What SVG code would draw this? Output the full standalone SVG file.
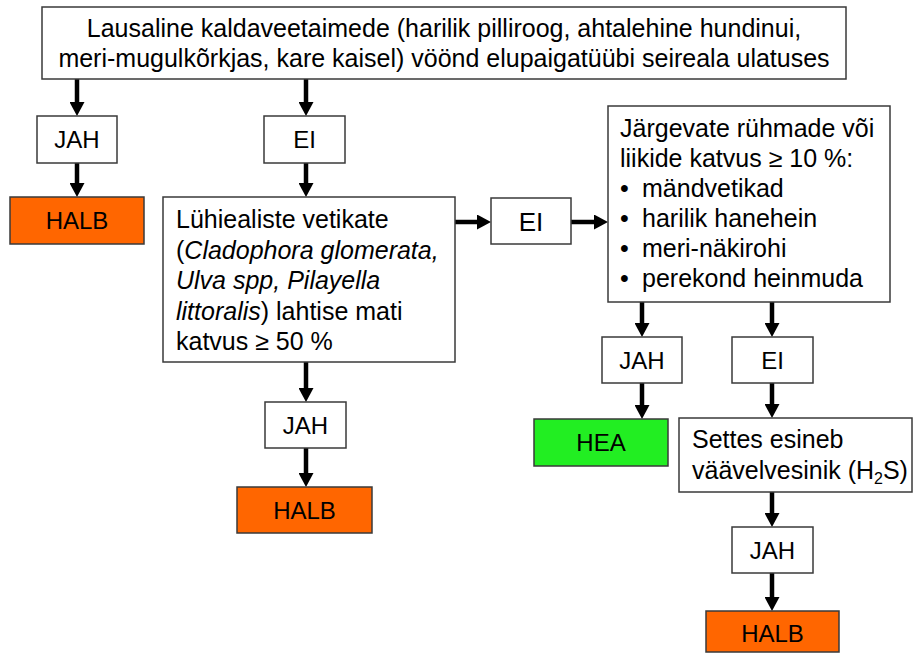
<svg xmlns="http://www.w3.org/2000/svg" width="914" height="653" viewBox="0 0 914 653">
<defs>
<marker id="ah" viewBox="0 0 14 15" refX="0" refY="7.5" markerWidth="14" markerHeight="15" markerUnits="userSpaceOnUse" orient="auto">
<path d="M0,0 L14,7.5 L0,15 Z" fill="#000"/>
</marker>
<style>
.box{fill:#fff;stroke:#3a3a3a;stroke-width:1.5}
.bad{fill:#ff6600;stroke:#3a3a3a;stroke-width:1.5}
.good{fill:#22ee22;stroke:#3a3a3a;stroke-width:1.5}
text{font-family:"Liberation Sans",Arial,sans-serif;fill:#000}
.t25{font-size:25px}
.t24{font-size:24px;text-anchor:middle}
.c{text-anchor:middle}
.arr{stroke:#000;stroke-width:4.5;fill:none;marker-end:url(#ah)}
</style>
</defs>
<rect width="914" height="653" fill="#fff"/>
<g id="connectors">
<line class="arr" x1="77" y1="79" x2="77" y2="102"/>
<line class="arr" x1="306" y1="79" x2="306" y2="102"/>
<line class="arr" x1="77" y1="163" x2="77" y2="183"/>
<line class="arr" x1="306" y1="163" x2="306" y2="183"/>
<line class="arr" x1="455" y1="222" x2="477" y2="222"/>
<line class="arr" x1="571" y1="222" x2="594" y2="222"/>
<line class="arr" x1="642" y1="302" x2="642" y2="323"/>
<line class="arr" x1="772" y1="302" x2="772" y2="323"/>
<line class="arr" x1="642" y1="383" x2="642" y2="405"/>
<line class="arr" x1="772" y1="383" x2="772" y2="404"/>
<line class="arr" x1="306" y1="362" x2="306" y2="388"/>
<line class="arr" x1="306" y1="448" x2="306" y2="473"/>
<line class="arr" x1="772" y1="492" x2="772" y2="513"/>
<line class="arr" x1="772" y1="573" x2="772" y2="597"/>
</g>
<g id="top">
<rect class="box" x="42" y="7" width="804" height="72"/>
<text class="t25 c" x="444" y="37">Lausaline kaldaveetaimede (harilik pilliroog, ahtalehine hundinui,</text>
<text class="t25 c" x="444" y="67">meri-mugulkõrkjas, kare kaisel) vöönd elupaigatüübi seireala ulatuses</text>
</g>
<g id="jah1">
<rect class="box" x="37" y="116" width="80" height="47"/>
<text class="t24" x="77" y="148">JAH</text>
</g>
<g id="halb1">
<rect class="bad" x="10" y="197" width="134" height="47"/>
<text class="t24" x="77" y="229">HALB</text>
</g>
<g id="ei1">
<rect class="box" x="264" y="116" width="81" height="47"/>
<text class="t24" x="304.5" y="148">EI</text>
</g>
<g id="lyhi">
<rect class="box" x="163" y="197" width="292" height="165"/>
<text class="t25" x="176" y="228">Lühiealiste vetikate</text>
<text class="t25" x="176" y="258.5">(<tspan font-style="italic">Cladophora glomerata,</tspan></text>
<text class="t25" x="176" y="289" font-style="italic">Ulva spp, Pilayella</text>
<text class="t25" x="176" y="319.5"><tspan font-style="italic">littoralis</tspan>) lahtise mati</text>
<text class="t25" x="176" y="350">katvus ≥ 50 %</text>
</g>
<g id="ei-mid">
<rect class="box" x="491" y="198" width="80" height="46"/>
<text class="c" font-size="26" x="531" y="230.5">EI</text>
</g>
<g id="jarg">
<rect class="box" x="608" y="106" width="282" height="196"/>
<text class="t25" x="620" y="137">Järgevate rühmade või</text>
<text class="t25" x="620" y="167">liikide katvus ≥ 10 %:</text>
<text class="t25" x="620" y="197">•</text><text class="t25" x="642" y="197">mändvetikad</text>
<text class="t25" x="620" y="227">•</text><text class="t25" x="642" y="227">harilik hanehein</text>
<text class="t25" x="620" y="257">•</text><text class="t25" x="642" y="257">meri-näkirohi</text>
<text class="t25" x="620" y="287">•</text><text class="t25" x="642" y="287">perekond heinmuda</text>
</g>
<g id="jah2">
<rect class="box" x="602" y="337" width="80" height="46"/>
<text class="t24" x="642" y="368.5">JAH</text>
</g>
<g id="ei2">
<rect class="box" x="732" y="337" width="81" height="46"/>
<text class="t24" x="772.5" y="368.5">EI</text>
</g>
<g id="hea">
<rect class="good" x="534" y="419" width="134" height="47"/>
<text class="t24" x="601" y="451">HEA</text>
</g>
<g id="settes">
<rect class="box" x="679" y="418" width="233" height="74"/>
<text class="t25" x="692" y="448">Settes esineb</text>
<text class="t25" x="692" y="479">väävelvesinik (H<tspan font-size="16" dy="5">2</tspan><tspan dy="-5">S)</tspan></text>
</g>
<g id="jah3">
<rect class="box" x="265" y="402" width="81" height="46"/>
<text class="t24" x="305.5" y="433.5">JAH</text>
</g>
<g id="halb2">
<rect class="bad" x="237" y="487" width="135" height="46"/>
<text class="t24" x="304.5" y="518.5">HALB</text>
</g>
<g id="jah4">
<rect class="box" x="732" y="527" width="81" height="46"/>
<text class="t24" x="772.5" y="558.5">JAH</text>
</g>
<g id="halb3">
<rect class="bad" x="706" y="611" width="133" height="41"/>
<text class="t24" x="772.5" y="642">HALB</text>
</g>
</svg>
